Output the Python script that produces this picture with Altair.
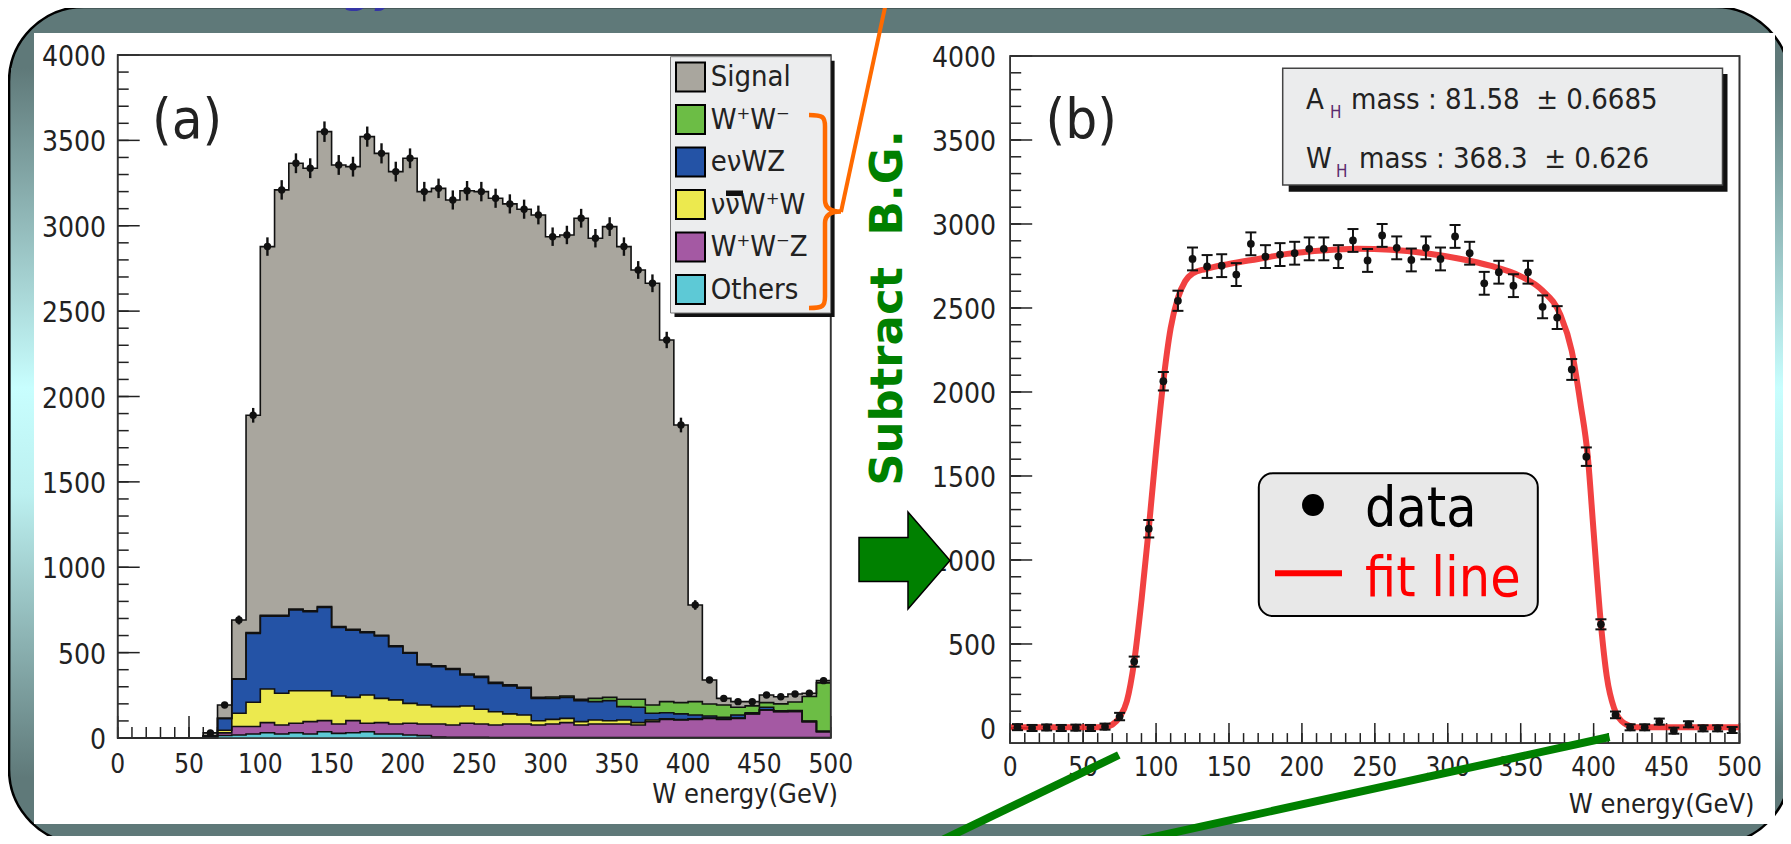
import altair as alt
import pandas as pd

# ---------------- data ----------------
bin_lo = list(range(0, 500, 10))  # 10 GeV bins, 0..500

# panel (a): stacked MC components per bin (bottom -> top)
others = [0, 0, 0, 0, 0, 0, 0, 15, 18, 23, 31, 23, 31, 23, 37, 27, 31, 37, 23, 23,
          18, 14, 5, 4, 4, 4, 3, 3, 3, 3, 3, 3, 3, 3, 3, 3, 3, 3, 3, 3,
          3, 3, 3, 3, 3, 3, 3, 3, 3, 3]
wwz = [0, 0, 0, 0, 0, 0, 3, 15, 49, 44, 59, 53, 55, 73, 65, 55, 71, 49, 67, 59,
       68, 68, 77, 72, 82, 78, 73, 79, 79, 73, 79, 87, 73, 79, 79, 79, 73, 93, 106, 102,
       106, 112, 106, 112, 138, 161, 151, 152, 93, 34]
nnww = [0, 0, 0, 0, 0, 0, 2, 15, 78, 142, 197, 186, 191, 181, 175, 164, 136, 166, 142, 141,
        117, 111, 102, 108, 101, 86, 78, 59, 53, 25, 27, 25, 20, 23, 19, 23, 14, 9, 3, 3,
        3, 2, 2, 2, 1, 1, 1, 1, 0, 0]
enwz = [0, 0, 0, 0, 0, 0, 8, 70, 199, 404, 427, 452, 473, 463, 488, 402, 394, 365, 365, 312,
        293, 235, 234, 218, 182, 187, 166, 164, 156, 131, 123, 123, 123, 108, 118, 79, 90, 40, 36, 33,
        23, 12, 10, 18, 6, 15, 5, 5, 3, 3]
ww = [0, 0, 0, 0, 0, 0, 0, 0, 3, 5, 5, 5, 5, 5, 5, 5, 5, 5, 5, 5,
      5, 5, 5, 5, 6, 6, 6, 6, 6, 6, 8, 8, 8, 19, 19, 43, 47, 48, 65, 66,
      78, 70, 72, 45, 40, 27, 40, 50, 144, 283]
signal = [0, 0, 0, 0, 0, 0, 17, 78, 344, 1272, 2159, 2491, 2611, 2592, 2781, 2703, 2709, 2900, 2822, 2777,
          2894, 2767, 2796, 2744, 2830, 2839, 2835, 2817, 2800, 2825, 2696, 2700, 2817, 2695, 2757, 2651, 2514, 2470, 2118, 1626,
          566, 141, 39, 33, 25, 45, 42, 47, 19, 13]
# panel (a) data points (bins 60..490) and their error bars
data_a = [30, 193, 691, 1890, 2878, 3210, 3366, 3337, 3551, 3356, 3346, 3522, 3424, 3317,
          3395, 3200, 3219, 3151, 3205, 3200, 3161, 3128, 3097, 3063, 2936, 2946, 3044, 2927, 2995, 2878,
          2741, 2663, 2331, 1833, 779, 340, 232, 213, 213, 252, 242, 258, 262, 336]
err_a = [6, 14, 26, 43, 54, 57, 58, 58, 60, 58, 58, 59, 59, 58,
         58, 57, 57, 56, 57, 57, 56, 56, 56, 55, 54, 54, 55, 54, 55, 54,
         52, 52, 48, 43, 28, 18, 15, 15, 15, 16, 16, 16, 16, 18]

comp_keys = ["signal", "ww", "enwz", "nnww", "wwz", "others"]           # legend order
comp_labels = ["Signal", "W⁺W⁻", "eνWZ", "ννW⁺W", "W⁺W⁻Z", "Others"]
comp_colors = ["#A9A69E", "#6CBD45", "#2453A6", "#ECE94E", "#A459A3", "#5DC9D6"]

# panel (b): background-subtracted data, errors and fit curve
data_b = [5, 0, 3, 0, 2, 0, 8, 68, 395, 1186, 2064, 2543, 2792, 2747, 2752, 2699, 2882, 2806, 2818, 2826,
          2852, 2852, 2806, 2902, 2783, 2932, 2858, 2786, 2858, 2792, 2926, 2826, 2647, 2713, 2633, 2713, 2507, 2443, 2134, 1615,
          617, 78, 4, 4, 38, -16, 22, -2, -2, -12]
err_b = [18, 18, 18, 18, 18, 18, 18, 22, 30, 52, 55, 60, 68, 68, 68, 68, 68, 68, 68, 68,
         68, 68, 68, 68, 68, 68, 68, 68, 68, 68, 68, 68, 68, 68, 68, 68, 68, 68, 62, 55,
         30, 20, 18, 18, 18, 18, 18, 18, 18, 18]
fit_x = [0, 30, 60, 66, 70, 75, 80, 85, 90, 95, 100, 105, 110, 115, 120, 125, 134, 150, 170, 190,
         214, 238, 261, 285, 309, 329, 349, 365, 377, 385, 391, 396, 400, 405, 409, 414, 421, 429, 460, 500]
fit_y = [5, 5, 5, 8, 20, 64, 160, 395, 760, 1186, 1650, 2064, 2380, 2560, 2660, 2705, 2732, 2762, 2792, 2822,
         2842, 2852, 2846, 2826, 2792, 2752, 2693, 2603, 2463, 2244, 1930, 1615, 1166, 617, 307, 118, 28, 5, 4, 4]

y_label_vals = [0, 500, 1000, 1500, 2000, 2500, 3000, 3500, 4000]
x_label_vals = [0, 50, 100, 150, 200, 250, 300, 350, 400, 450, 500]

# ---------------- tables ----------------
rows = []
cum = [0] * 50
for key, vals in [("others", others), ("wwz", wwz), ("nnww", nnww), ("enwz", enwz), ("ww", ww), ("signal", signal)]:
    hi = [c + v for c, v in zip(cum, vals)]
    for i, e in enumerate(bin_lo + [500]):
        j = min(i, 49)
        rows.append({"comp": key, "edge": e, "lo": cum[j], "hi": hi[j]})
    cum = hi
df_hist = pd.DataFrame(rows)

df_pa = pd.DataFrame({"x": [b + 5 for b in bin_lo[6:]], "v": data_a, "e": err_a})
df_pa["lo"] = df_pa["v"] - df_pa["e"]
df_pa["hi"] = df_pa["v"] + df_pa["e"]
df_pb = pd.DataFrame({"x": [b + 5 for b in bin_lo], "v": data_b, "e": err_b})
df_pb["lo"] = df_pb["v"] - df_pb["e"]
df_pb["hi"] = df_pb["v"] + df_pb["e"]
df_fit = pd.DataFrame({"x": fit_x, "y": fit_y})
df_leg = pd.DataFrame({"key": comp_keys, "label": comp_labels})

FONT = "DejaVu Sans Condensed, DejaVu Sans"
TXT = "#222222"
W, H = 1775, 828
one = alt.Data(values=[{}])

xa = alt.Scale(domain=[0, 500], range=[109.7, 822.7], nice=False, zero=False)
ya = alt.Scale(domain=[0, 4000], range=[730, 47], nice=False, zero=False)
xb = alt.Scale(domain=[0, 500], range=[1002.2, 1731.5], nice=False, zero=False)
yb = alt.Scale(domain=[-90, 4000], range=[735.1, 48], nice=False, zero=False)


def box(x, x2, y, y2, **kw):
    return alt.Chart(one).mark_rect(**kw).encode(
        x=alt.value(x), x2=alt.value(x2), y=alt.value(y), y2=alt.value(y2))


def txt(x, y, s, **kw):
    kw.setdefault("font", FONT)
    kw.setdefault("color", TXT)
    kw.setdefault("align", "left")
    kw.setdefault("baseline", "alphabetic")
    return alt.Chart(one).mark_text(text=s, **kw).encode(x=alt.value(x), y=alt.value(y))


def seg(x, y, x2, y2, **kw):
    return alt.Chart(one).mark_rule(**kw).encode(
        x=alt.value(x), y=alt.value(y), x2=alt.value(x2), y2=alt.value(y2))


def panel_axes(xs, ys, x0px, y0px, ymin, ylab_x, xlab_y, xmaj, xmin_len):
    frame_df = pd.DataFrame({"x0": [0], "x1": [500], "y0": [ymin], "y1": [4000]})
    frame = alt.Chart(frame_df).mark_rect(fill="white", stroke="#333333", strokeWidth=1.6).encode(
        x=alt.X("x0:Q", scale=xs, axis=None), x2="x1:Q",
        y=alt.Y("y0:Q", scale=ys, axis=None), y2="y1:Q")
    frame_line = alt.Chart(frame_df).mark_rect(fillOpacity=0, stroke="#333333", strokeWidth=1.6).encode(
        x=alt.X("x0:Q", scale=xs, axis=None), x2="x1:Q",
        y=alt.Y("y0:Q", scale=ys, axis=None), y2="y1:Q")
    ymin_t = pd.DataFrame({"v": list(range(0, 4001, 100))})
    ymaj_t = pd.DataFrame({"v": y_label_vals})
    xmin_t = pd.DataFrame({"v": list(range(0, 501, 10))})
    xmaj_t = pd.DataFrame({"v": x_label_vals})
    ticks = [
        alt.Chart(ymin_t).mark_rule(color="#222", strokeWidth=1.5).encode(
            y=alt.Y("v:Q", scale=ys, axis=None), x=alt.value(x0px), x2=alt.value(x0px + 11)),
        alt.Chart(ymaj_t).mark_rule(color="#222", strokeWidth=1.5).encode(
            y=alt.Y("v:Q", scale=ys, axis=None), x=alt.value(x0px), x2=alt.value(x0px + 22)),
        alt.Chart(xmin_t).mark_rule(color="#222", strokeWidth=1.5).encode(
            x=alt.X("v:Q", scale=xs, axis=None), y=alt.value(y0px), y2=alt.value(y0px - xmin_len)),
        alt.Chart(xmaj_t).mark_rule(color="#222", strokeWidth=1.5).encode(
            x=alt.X("v:Q", scale=xs, axis=None), y=alt.value(y0px), y2=alt.value(y0px - xmaj)),
    ]
    labels = [
        alt.Chart(pd.DataFrame({"v": y_label_vals, "t": [str(v) for v in y_label_vals]})).mark_text(
            font=FONT, fontSize=28, color=TXT, align="right", baseline="middle", dy=3).encode(
            y=alt.Y("v:Q", scale=ys, axis=None), x=alt.value(ylab_x), text="t:N"),
        alt.Chart(pd.DataFrame({"v": x_label_vals, "t": [str(v) for v in x_label_vals]})).mark_text(
            font=FONT, fontSize=26, color=TXT, align="center", baseline="top").encode(
            x=alt.X("v:Q", scale=xs, axis=None), y=alt.value(xlab_y), text="t:N"),
    ]
    return frame, frame_line, ticks, labels


# ---------------- slide background ----------------
slate = "#5F7979"
grad = alt.LinearGradient(gradient="linear", x1=0, x2=0, y1=0, y2=1, stops=[
    alt.GradientStop(color=slate, offset=0),
    alt.GradientStop(color="#C8FEFE", offset=0.45),
    alt.GradientStop(color="#BCF0F0", offset=0.6),
    alt.GradientStop(color=slate, offset=1)])
background = alt.layer(
    box(1, 1782, -1, 836, fill=slate, stroke="black", strokeWidth=2.5, cornerRadius=75),
    box(3, 26, 60, 770, fill=grad),
    box(1767, 1780, 60, 770, fill=grad),
    box(26, 1767, 25, 816, fill="white"),
    txt(157, -7, "W  energy distribution", font="DejaVu Sans", fontSize=50, fontStyle="italic",
        color="#3535A5"),
)

# ---------------- panel (a) ----------------
fa, fa_line, ticks_a, labels_a = panel_axes(xa, ya, 109.7, 730, 0, 98, 744, 22, 11)
hist_color = alt.Color("comp:N", scale=alt.Scale(domain=comp_keys, range=comp_colors), legend=None)
areas = alt.Chart(df_hist).mark_area(interpolate="step-after", opacity=1).encode(
    x=alt.X("edge:Q", scale=xa, axis=None),
    y=alt.Y("hi:Q", scale=ya, axis=None), y2="lo:Q", color=hist_color)
outlines = alt.Chart(df_hist).mark_line(interpolate="step-after", color="#111", strokeWidth=1.6).encode(
    x=alt.X("edge:Q", scale=xa, axis=None), y=alt.Y("hi:Q", scale=ya, axis=None), detail="comp:N")
err_rules_a = alt.Chart(df_pa).mark_rule(color="#111", strokeWidth=2.4).encode(
    x=alt.X("x:Q", scale=xa, axis=None), y=alt.Y("lo:Q", scale=ya, axis=None), y2="hi:Q")
pts_a = alt.Chart(df_pa).mark_circle(color="#111", size=55, opacity=1).encode(
    x=alt.X("x:Q", scale=xa, axis=None), y=alt.Y("v:Q", scale=ya, axis=None))
panel_a = alt.layer(
    fa, *ticks_a, areas, outlines, err_rules_a, pts_a, fa_line, *labels_a,
    txt(144, 130, "(a)", fontSize=56),
    txt(830, 795, "W energy(GeV)", fontSize=27, align="right"),
)

leg_y = alt.Scale(type="point", domain=comp_keys, range=[69, 281.5], padding=0)
legend_a = alt.layer(
    box(666.5, 826.6, 52.7, 309, fill="#111"),
    box(662.5, 822.6, 48.7, 305, fill="#ECEDEE", stroke="#777", strokeWidth=1),
    alt.Chart(df_leg).mark_square(size=841, filled=True, stroke="black", strokeWidth=2, opacity=1).encode(
        x=alt.value(682.5), y=alt.Y("key:N", scale=leg_y, axis=None),
        fill=alt.Fill("key:N", scale=alt.Scale(domain=comp_keys, range=comp_colors), legend=None)),
    alt.Chart(df_leg).mark_text(font=FONT, fontSize=29, color=TXT, align="left", baseline="middle").encode(
        x=alt.value(702.7), y=alt.Y("key:N", scale=leg_y, axis=None), text="label:N"),
    box(718, 735, 182.5, 188, fill="#111"),
)

# orange brace + pointer line
BRACE = ("M -0.166 -1 C -0.02 -1 0 -0.98 0 -0.88 L 0 -0.12 C 0 -0.04 0.06 0 0.166 0 "
         "C 0.06 0 0 0.04 0 0.12 L 0 0.88 C 0 0.98 -0.02 1 -0.166 1")
orange = alt.layer(
    alt.Chart(one).mark_point(shape=BRACE, size=37249, filled=False, color="#FF6A00",
                              strokeWidth=4.5, opacity=1).encode(x=alt.value(817), y=alt.value(203.5)),
    seg(833, 204, 879, -10, color="#FF6A00", strokeWidth=4),
)

# ---------------- panel (b) ----------------
fb, fb_line, ticks_b, labels_b = panel_axes(xb, yb, 1002.2, 735.1, -90, 988, 747, 20, 10)
fit = alt.Chart(df_fit).mark_line(color="#EE2020", strokeWidth=6, opacity=0.85, interpolate="monotone").encode(
    x=alt.X("x:Q", scale=xb, axis=None), y=alt.Y("y:Q", scale=yb, axis=None))
err_rules_b = alt.Chart(df_pb).mark_rule(color="#111", strokeWidth=2).encode(
    x=alt.X("x:Q", scale=xb, axis=None), y=alt.Y("lo:Q", scale=yb, axis=None), y2="hi:Q")
cap_lo = alt.Chart(df_pb).mark_tick(orient="horizontal", size=11, thickness=2, color="#111", opacity=1).encode(
    x=alt.X("x:Q", scale=xb, axis=None), y=alt.Y("lo:Q", scale=yb, axis=None))
cap_hi = alt.Chart(df_pb).mark_tick(orient="horizontal", size=11, thickness=2, color="#111", opacity=1).encode(
    x=alt.X("x:Q", scale=xb, axis=None), y=alt.Y("hi:Q", scale=yb, axis=None))
pts_b = alt.Chart(df_pb).mark_circle(color="#111", size=60, opacity=1).encode(
    x=alt.X("x:Q", scale=xb, axis=None), y=alt.Y("v:Q", scale=yb, axis=None))
panel_b = alt.layer(
    fb, *ticks_b, fit, err_rules_b, cap_lo, cap_hi, pts_b, fb_line, *labels_b,
    txt(1037.6, 130, "(b)", fontSize=56),
    txt(1746.5, 805, "W energy(GeV)", fontSize=27, align="right"),
    # fit statistics box
    box(1280.7, 1719.5, 66, 183.7, fill="#111"),
    box(1274.7, 1714.5, 60.3, 177, fill="#EBECED", stroke="#444", strokeWidth=1.5),
    txt(1298, 101, "A", fontSize=29),
    txt(1322, 110, "H", fontSize=17, color="#5B2C6F"),
    txt(1343, 101, "mass : 81.58\u00a0\u00a0± 0.6685", fontSize=29),
    txt(1298, 160, "W", fontSize=29),
    txt(1328, 169, "H", fontSize=17, color="#5B2C6F"),
    txt(1351, 160, "mass : 368.3\u00a0\u00a0± 0.626", fontSize=29),
    # data / fit legend
    box(1250.8, 1529.8, 465.3, 608, fill="#E8E8E8", stroke="black", strokeWidth=2, cornerRadius=14),
    alt.Chart(one).mark_circle(color="black", size=480, opacity=1).encode(x=alt.value(1305), y=alt.value(497)),
    txt(1357, 518, "data", fontSize=55, color="black"),
    seg(1267, 565.3, 1334, 565.3, color="#FF0000", strokeWidth=6),
    txt(1357, 588, "fit line", fontSize=55, color="#FF0000"),
)

# ---------------- green annotations ----------------
ARROW = "M -0.938 -0.472 L 0.072 -0.472 L 0.072 -1 L 0.938 0 L 0.072 1 L 0.072 0.433 L -0.938 0.433 Z"
green = alt.layer(
    alt.Chart(one).mark_point(shape=ARROW, size=9409, filled=True, fill="#008000", stroke="black",
                              strokeWidth=1.5, opacity=1).encode(x=alt.value(896.5), y=alt.value(552.5)),
    txt(879.5, 300, "Subtract\u00a0\u00a0B.G.", font="DejaVu Sans", fontSize=45, fontWeight="bold",
        color="#008000", angle=270, align="center", baseline="middle"),
    seg(1110.8, 747, 917.7, 840, color="#008000", strokeWidth=8),
    seg(1601.5, 729, 1095.3, 840, color="#008000", strokeWidth=8),
)

chart = alt.layer(background, panel_a, legend_a, orange, panel_b, green).resolve_scale(
    x="independent", y="independent"
).properties(
    width=W, height=H, padding=0, autosize=alt.AutoSizeParams(type="none")
).configure_view(stroke=None)

chart.save("out.html", embed_options={"renderer": "svg", "actions": False})
